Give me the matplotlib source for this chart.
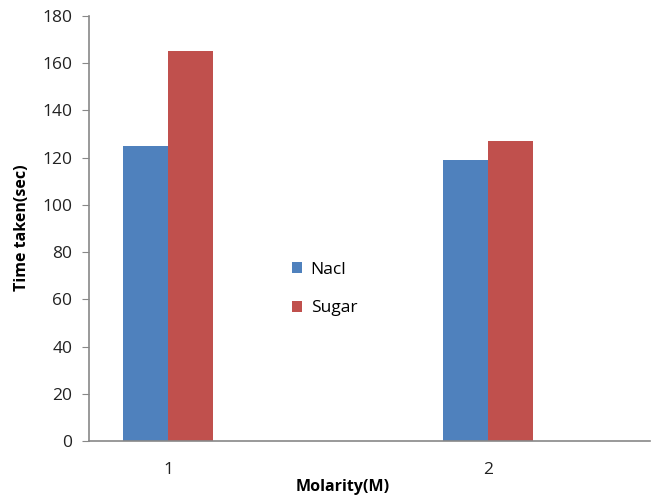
import numpy as np
import matplotlib
matplotlib.use("Agg")
import matplotlib.pyplot as plt

categories = ["1", "2"]
nacl = [125, 119]
sugar = [165, 127]
series_names = ["Nacl", "Sugar"]
yticks = [0, 20, 40, 60, 80, 100, 120, 140, 160, 180]

plt.rcParams['font.family'] = ['Open Sans', 'DejaVu Sans']

fig = plt.figure(figsize=(6.53, 4.97), dpi=100)
ax = fig.add_axes([89/653, 1-441/497, (650-89)/653, (441-16)/497])

x = np.arange(len(categories))
w = 0.14
b1 = ax.bar(x - w/2, nacl, w, color='#4F81BD', label=series_names[0])
b2 = ax.bar(x + w/2, sugar, w, color='#C0504D', label=series_names[1])

ax.set_xlim(-0.247, 1.506)
ax.set_ylim(0, 180)
ax.set_yticks(yticks)
ax.set_xticks(x)
ax.set_xticklabels(categories)

for s in ['top', 'right']:
    ax.spines[s].set_visible(False)
for s in ['left', 'bottom']:
    ax.spines[s].set_color('#888888')
    ax.spines[s].set_linewidth(1.2)

ax.tick_params(axis='y', direction='out', length=5, color='#888888',
               labelsize=12.5, pad=7, labelcolor='#222222')
ax.tick_params(axis='x', length=0, labelsize=12.5, pad=15, labelcolor='#222222')

fig.text(22/653, 1-228/497, "Time taken(sec)", rotation=90, ha='center', va='center',
         fontsize=11.5, fontweight='bold')
fig.text(343/653, 1-487/497, "Molarity(M)", ha='center', va='center',
         fontsize=11.5, fontweight='bold')

fig.legend(handles=[b1, b2], loc='center left', bbox_to_anchor=(276/653, 1-289/497),
           frameon=False, fontsize=12.5, handlelength=0.6, handleheight=0.6,
           handletextpad=0.5, labelspacing=1.3)

fig.savefig("out.png", dpi=100)
